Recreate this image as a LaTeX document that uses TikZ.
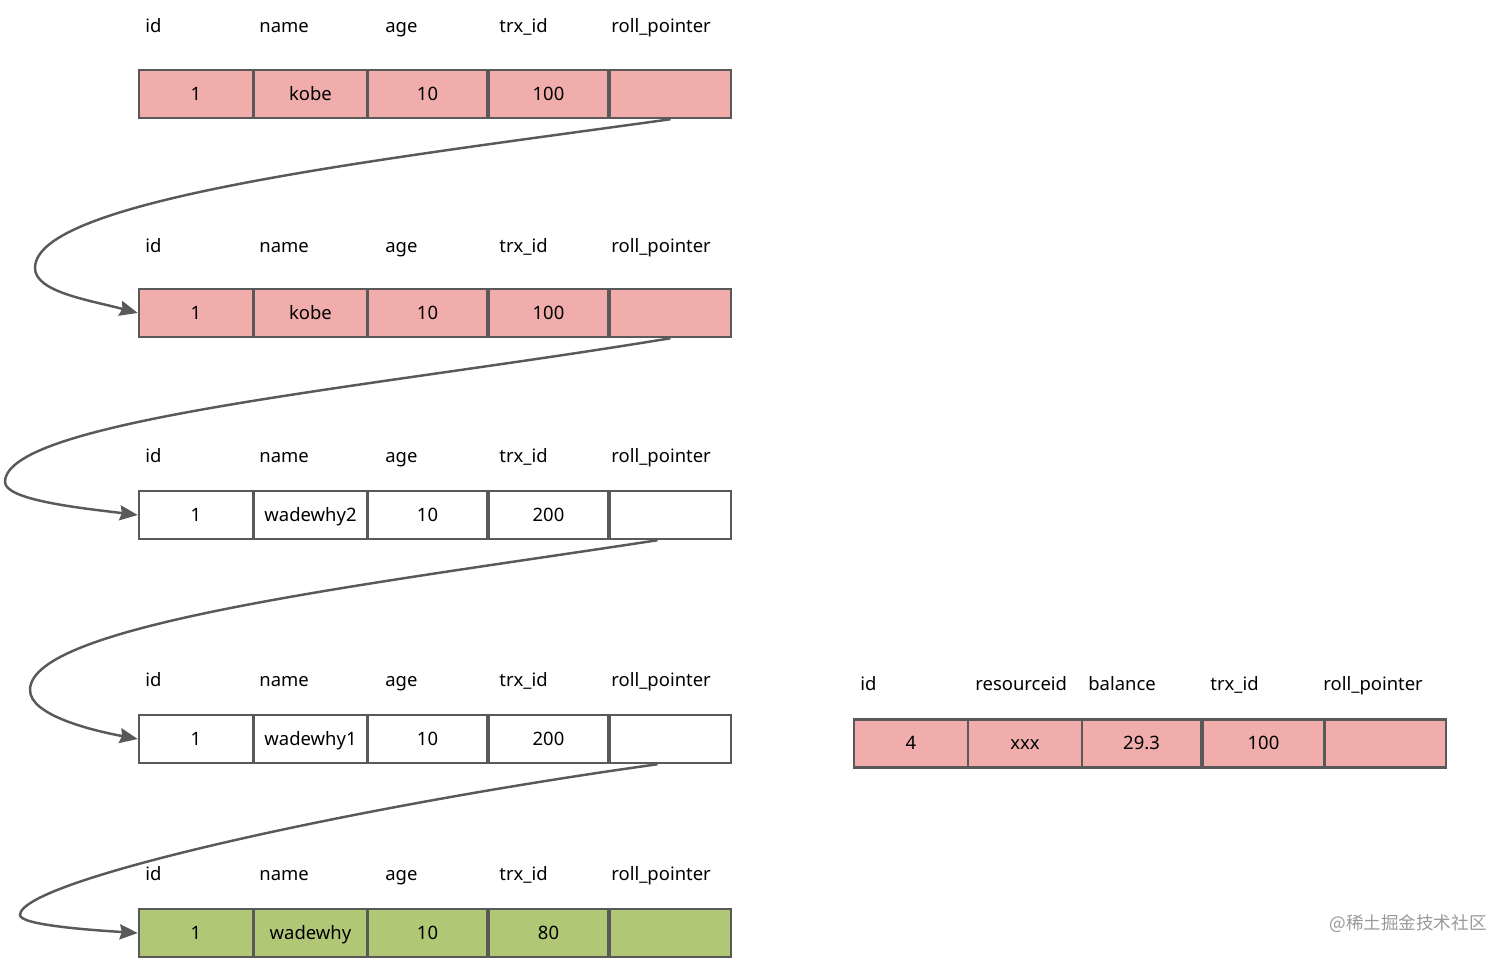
\documentclass[tikz,border=0pt]{standalone}
\usepackage{fontspec}
\setmainfont{Noto Sans}
\newfontfamily\cjkfont{Noto Sans CJK SC}
\usetikzlibrary{arrows.meta}
\definecolor{rowpink}{RGB}{240,173,172}
\definecolor{rowgreen}{RGB}{176,200,118}
\definecolor{linegray}{RGB}{89,89,89}

\begin{document}
\begin{tikzpicture}[x=0.02cm,y=-0.02cm,
    cell/.style={draw=linegray,line width=1.4pt,minimum height=0.96cm,inner sep=0pt,text height=0.8em,text depth=0.1em,font=\fontsize{10.5}{12}\selectfont},
    wa/.style={cell,minimum width=2.28cm},
    wb/.style={cell,minimum width=2.38cm},
    wc/.style={cell,minimum width=2.42cm},
    head/.style={anchor=base west,inner sep=0pt,font=\fontsize{10.5}{12}\selectfont},
    ptr/.style={-{Stealth[length=0.36cm,width=0.3cm,inset=0.04cm]},draw=linegray,line width=1.4pt}]
    \useasboundingbox (0,0) rectangle (1512,960);

    % row 1
    \node[head](hid1)at(145,32){id};
    \node[head](hname1)at(259,32){name};
    \node[head](hage1)at(385,32){age};
    \node[head](htrx1)at(499,32){trx\_id};
    \node[head](hrp1)at(611,32){roll\_pointer};
    \node[wa,fill=rowpink](id1)at(196,94){1};
    \node[wa,fill=rowpink](name1)at(310.5,94){kobe};
    \node[wb,fill=rowpink](age1)at(427.5,94){10};
    \node[wb,fill=rowpink](trx1)at(548.5,94){100};
    \node[wc,fill=rowpink](rp1)at(670.5,94){};

    % row 2
    \node[head](hid2)at(145,252){id};
    \node[head](hname2)at(259,252){name};
    \node[head](hage2)at(385,252){age};
    \node[head](htrx2)at(499,252){trx\_id};
    \node[head](hrp2)at(611,252){roll\_pointer};
    \node[wa,fill=rowpink](id2)at(196,313){1};
    \node[wa,fill=rowpink](name2)at(310.5,313){kobe};
    \node[wb,fill=rowpink](age2)at(427.5,313){10};
    \node[wb,fill=rowpink](trx2)at(548.5,313){100};
    \node[wc,fill=rowpink](rp2)at(670.5,313){};

    % row 3
    \node[head](hid3)at(145,462){id};
    \node[head](hname3)at(259,462){name};
    \node[head](hage3)at(385,462){age};
    \node[head](htrx3)at(499,462){trx\_id};
    \node[head](hrp3)at(611,462){roll\_pointer};
    \node[wa,fill=white](id3)at(196,515){1};
    \node[wa,fill=white](name3)at(310.5,515){wadewhy2};
    \node[wb,fill=white](age3)at(427.5,515){10};
    \node[wb,fill=white](trx3)at(548.5,515){200};
    \node[wc,fill=white](rp3)at(670.5,515){};

    % row 4
    \node[head](hid4)at(145,686){id};
    \node[head](hname4)at(259,686){name};
    \node[head](hage4)at(385,686){age};
    \node[head](htrx4)at(499,686){trx\_id};
    \node[head](hrp4)at(611,686){roll\_pointer};
    \node[wa,fill=white](id4)at(196,739){1};
    \node[wa,fill=white](name4)at(310.5,739){wadewhy1};
    \node[wb,fill=white](age4)at(427.5,739){10};
    \node[wb,fill=white](trx4)at(548.5,739){200};
    \node[wc,fill=white](rp4)at(670.5,739){};

    % row 5
    \node[head](hid5)at(145,880){id};
    \node[head](hname5)at(259,880){name};
    \node[head](hage5)at(385,880){age};
    \node[head](htrx5)at(499,880){trx\_id};
    \node[head](hrp5)at(611,880){roll\_pointer};
    \node[wa,fill=rowgreen](id5)at(196,933){1};
    \node[wa,fill=rowgreen](name5)at(310.5,933){wadewhy};
    \node[wb,fill=rowgreen](age5)at(427.5,933){10};
    \node[wb,fill=rowgreen](trx5)at(548.5,933){80};
    \node[wc,fill=rowgreen](rp5)at(670.5,933){};

    % account row
    \node[head](hacid)at(860,690){id};
    \node[head](hacres)at(975,690){resourceid};
    \node[head](hacbal)at(1088,690){balance};
    \node[head](hactrx)at(1210,690){trx\_id};
    \node[head](hacrp)at(1323,690){roll\_pointer};
    \node[wa,fill=rowpink](acid)at(911,743.5){4};
    \node[wa,fill=rowpink](acres)at(1025,743.5){xxx};
    \node[wb,fill=rowpink](acbal)at(1141.5,743.5){29.3};
    \node[wc,fill=rowpink](actrx)at(1263.5,743.5){100};
    \node[wc,fill=rowpink](acrp)at(1385.5,743.5){};

    % undo chain
    \draw[ptr](rp1.south) .. controls (370,161) and (35,200) .. (35,268)
        .. controls (35,292) and (89,300) .. (id2.west);
    \draw[ptr](rp2.south) .. controls (370,388) and (5,420) .. (5,482)
        .. controls (5,500) and (80,508) .. (id3.west);
    \draw[ptr]([xshift=-0.26cm]rp3.south) .. controls (357,586) and (30,625) .. (30,690)
        .. controls (30,715) and (90,730) .. (id4.west);
    \draw[ptr]([xshift=-0.26cm]rp4.south) .. controls (357,806) and (20,880) .. (20,915)
        .. controls (20,925) and (90,930) .. (id5.west);

    \node[anchor=east,inner sep=0pt,text=black!40,font=\cjkfont\fontsize{10}{12}\selectfont](mark)at(1487,924){@稀土掘金技术社区};
\end{tikzpicture}
\end{document}
